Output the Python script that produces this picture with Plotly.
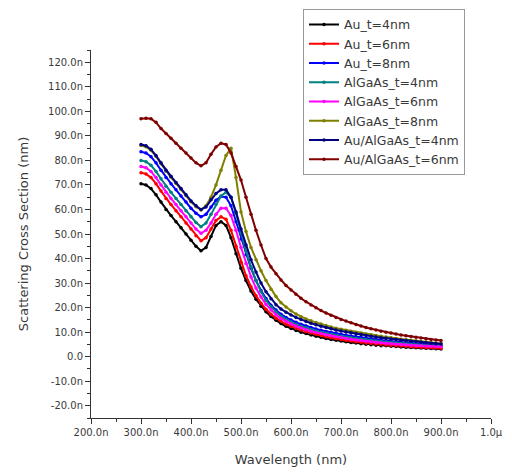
import plotly.graph_objects as go

wavelength = list(range(300, 910, 10))

au_t4 = [70.5, 70.0, 68.5, 66.0, 63.0, 60.0, 57.5, 55.0, 52.5, 50.0, 47.5,
         45.0, 43.2, 44.5, 49.0, 53.5, 55.0, 53.5, 48.5, 42.0, 36.0,
         31.0, 26.8, 23.4, 20.6, 18.3, 16.4, 14.8, 13.5, 12.4, 11.5,
         10.7, 10.0, 9.4, 8.8, 8.3, 7.9, 7.4, 7.0, 6.7, 6.4,
         6.1, 5.8, 5.6, 5.3, 5.1, 4.9, 4.7, 4.5, 4.4, 4.2,
         4.1, 3.9, 3.8, 3.7, 3.6, 3.5, 3.4, 3.3, 3.2, 3.1]
au_t6 = [75.0, 74.5, 73.0, 70.5, 67.5, 64.5, 62.0, 59.5, 57.0, 54.5, 52.0,
         49.3, 47.2, 48.5, 52.0, 55.5, 57.0, 56.0, 51.5, 45.0, 38.5,
         33.0, 28.5, 24.8, 21.8, 19.3, 17.3, 15.7, 14.4, 13.3, 12.4,
         11.6, 10.9, 10.2, 9.6, 9.1, 8.6, 8.1, 7.7, 7.3, 7.0,
         6.7, 6.4, 6.1, 5.9, 5.6, 5.4, 5.2, 5.0, 4.8, 4.6,
         4.5, 4.3, 4.2, 4.0, 3.9, 3.8, 3.7, 3.6, 3.5, 3.4]
au_t8 = [83.5, 83.0, 81.5, 79.0, 76.0, 73.0, 70.5, 68.0, 65.5, 63.0, 60.5,
         58.5, 57.0, 58.0, 61.0, 63.8, 65.3, 65.0, 61.5, 55.0, 48.0,
         41.5, 36.0, 31.0, 27.0, 23.7, 21.0, 19.0, 17.3, 16.0, 14.9,
         14.0, 13.2, 12.5, 11.9, 11.3, 10.8, 10.3, 9.9, 9.5, 9.1,
         8.7, 8.4, 8.1, 7.8, 7.5, 7.2, 7.0, 6.7, 6.5, 6.3,
         6.1, 5.9, 5.7, 5.5, 5.3, 5.2, 5.0, 4.9, 4.7, 4.6]
algaas_t4 = [80.0, 79.5, 78.0, 75.5, 72.5, 69.5, 67.0, 64.5, 62.0, 59.5, 57.0,
             54.7, 53.0, 54.5, 58.0, 62.0, 65.5, 67.0, 65.0, 58.5, 50.5,
             43.0, 36.5, 31.0, 26.5, 23.0, 20.3, 18.2, 16.5, 15.2, 14.1,
             13.2, 12.4, 11.7, 11.1, 10.5, 10.0, 9.5, 9.1, 8.7, 8.3,
             8.0, 7.7, 7.4, 7.1, 6.9, 6.6, 6.4, 6.2, 6.0, 5.8,
             5.6, 5.4, 5.3, 5.1, 5.0, 4.8, 4.7, 4.6, 4.5, 4.4]
algaas_t6 = [77.5, 77.0, 75.5, 73.0, 70.0, 67.0, 64.5, 62.0, 59.5, 57.0, 54.5,
             52.0, 50.3, 51.5, 54.5, 58.0, 60.5, 60.5, 57.5, 51.5, 44.5,
             38.0, 32.5, 28.0, 24.3, 21.3, 19.0, 17.1, 15.6, 14.4, 13.4,
             12.5, 11.7, 11.0, 10.4, 9.9, 9.4, 8.9, 8.5, 8.1, 7.8,
             7.4, 7.1, 6.8, 6.6, 6.3, 6.1, 5.9, 5.7, 5.5, 5.3,
             5.1, 5.0, 4.8, 4.7, 4.5, 4.4, 4.3, 4.2, 4.1, 4.0]
algaas_t8 = [86.1, 85.6, 84.1, 81.6, 78.6, 75.6, 73.1, 70.6, 68.1, 65.6, 63.1,
             61.1, 59.8, 61.5, 65.0, 70.0, 76.0, 82.0, 85.0, 73.0, 59.0,
             51.0, 44.5, 39.5, 35.0, 31.0, 27.5, 24.5, 22.0, 20.2, 18.7,
             17.4, 16.3, 15.4, 14.6, 13.9, 13.3, 12.7, 12.1, 11.6, 11.2,
             10.8, 10.4, 10.0, 9.6, 9.2, 8.9, 8.6, 8.3, 8.0, 7.7,
             7.4, 7.1, 6.9, 6.7, 6.5, 6.2, 6.0, 5.8, 5.6, 5.5]
au_algaas_t4 = [86.5, 86.0, 84.5, 82.0, 79.0, 76.0, 73.5, 71.0, 68.5, 66.0, 63.5,
                61.5, 60.0, 61.0, 64.0, 66.5, 68.0, 68.0, 65.0, 59.0, 52.0,
                45.5, 39.5, 34.5, 30.0, 26.5, 23.6, 21.2, 19.4, 18.1, 17.0,
                16.0, 15.1, 14.3, 13.6, 13.0, 12.4, 11.9, 11.4, 10.9, 10.5,
                10.1, 9.7, 9.3, 9.0, 8.6, 8.3, 8.0, 7.7, 7.5, 7.2,
                7.0, 6.7, 6.5, 6.3, 6.1, 5.9, 5.7, 5.5, 5.3, 5.2]
au_algaas_t6 = [97.0, 97.2, 97.0, 95.5, 93.0, 91.0, 89.0, 87.0, 85.0, 83.0, 81.0,
                79.0, 77.8, 79.0, 82.5, 85.5, 87.0, 86.5, 83.0, 77.5, 72.0,
                65.0, 58.0, 51.5, 45.5, 40.0, 36.5, 33.8, 31.3, 29.0, 27.2,
                25.4, 23.8, 22.4, 21.1, 19.9, 18.8, 17.8, 16.9, 16.0, 15.2,
                14.5, 13.8, 13.1, 12.5, 11.9, 11.4, 10.9, 10.4, 10.0, 9.6,
                9.2, 8.8, 8.5, 8.2, 7.9, 7.6, 7.3, 7.0, 6.8, 6.6]

series_names = ["Au_t=4nm", "Au_t=6nm", "Au_t=8nm", "AlGaAs_t=4nm",
                "AlGaAs_t=6nm", "AlGaAs_t=8nm", "Au/AlGaAs_t=4nm", "Au/AlGaAs_t=6nm"]
series_values = [au_t4, au_t6, au_t8, algaas_t4, algaas_t6, algaas_t8,
                 au_algaas_t4, au_algaas_t6]
series_colors = ["#000000", "#FF0000", "#0000FF", "#008080",
                 "#FF00FF", "#808000", "#000080", "#800000"]

y_tickvals = list(range(-20, 130, 10))
y_ticktext = ["-20.0n", "-10.0n", "0.0", "10.0n", "20.0n", "30.0n", "40.0n",
              "50.0n", "60.0n", "70.0n", "80.0n", "90.0n", "100.0n", "110.0n", "120.0n"]
x_tickvals = list(range(200, 1100, 100))
x_ticktext = ["200.0n", "300.0n", "400.0n", "500.0n", "600.0n", "700.0n",
              "800.0n", "900.0n", "1.0\u00b5"]

fig = go.Figure()
for name, vals, col in zip(series_names, series_values, series_colors):
    fig.add_trace(go.Scatter(
        x=wavelength, y=vals, name=name, mode="lines+markers",
        line=dict(color=col, width=2),
        marker=dict(color=col, size=3.5, symbol="circle"),
    ))

font_family = "DejaVu Sans, Arial, sans-serif"
txt = "#3a3a3a"
fig.update_layout(
    width=496, height=459,
    margin=dict(l=83, r=13, t=42, b=49, autoexpand=False),
    paper_bgcolor="white", plot_bgcolor="white",
    font=dict(family=font_family, color=txt, size=9),
    showlegend=True,
    legend=dict(
        x=0.53, y=1.112, xanchor="left", yanchor="top",
        bgcolor="white", bordercolor="#999999", borderwidth=1,
        font=dict(size=12.5, color=txt, family=font_family),
        tracegroupgap=0, itemwidth=30,
    ),
    xaxis=dict(
        range=[200, 1000], tickvals=x_tickvals, ticktext=x_ticktext,
        showgrid=False, zeroline=False, showline=True, linecolor="#333333",
        linewidth=1, ticks="outside", ticklen=5, tickcolor="#333333",
        tickfont=dict(size=10, color=txt), automargin=False,
        minor=dict(ticks="outside", ticklen=3, dtick=50, tickcolor="#333333", showgrid=False),
        title=dict(text="Wavelength (nm)", font=dict(size=13, color=txt), standoff=18),
    ),
    yaxis=dict(
        range=[-25, 125], tickvals=y_tickvals, ticktext=y_ticktext,
        showgrid=False, zeroline=False, showline=True, linecolor="#333333",
        linewidth=1, ticks="outside", ticklen=5, tickcolor="#333333",
        tickfont=dict(size=10, color=txt), automargin=False,
        minor=dict(ticks="outside", ticklen=3, dtick=5, tickcolor="#333333", showgrid=False),
        title=dict(text="Scattering Cross Section (nm)", font=dict(size=13, color=txt), standoff=16),
    ),
)

fig.write_html("out.html")
